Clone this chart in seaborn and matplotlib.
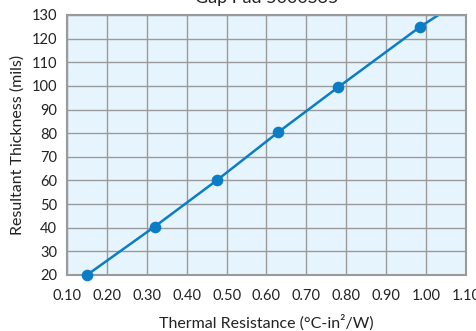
import numpy as np
import pandas as pd
import matplotlib
matplotlib.use("Agg")
import matplotlib.pyplot as plt
import seaborn as sns

# data
resistance = [0.15, 0.32, 0.475, 0.63, 0.78, 0.985]
thickness = [20, 40.5, 60, 80.5, 99.5, 125]
# trend line continues past the last point up to the top of the plot
line_x = resistance + [1.04]
line_y = thickness + [131]

x_ticks = [0.10, 0.20, 0.30, 0.40, 0.50, 0.60, 0.70, 0.80, 0.90, 1.00, 1.10]
y_ticks = list(range(20, 131, 10))

sns.set_style("white")
plt.rcParams['font.family'] = ['Lato', 'DejaVu Sans']

blue = "#0a7dc6"
grid_c = "#9a9a9a"

fig = plt.figure(figsize=(4.77, 3.31), dpi=100)
ax = fig.add_axes([67 / 477, 1 - 275 / 331, (466 - 67) / 477, (275 - 15) / 331])
ax.set_facecolor("#e6f5fd")

sns.lineplot(x=line_x, y=line_y, ax=ax, color=blue, lw=1.8, sort=False)
sns.scatterplot(x=resistance, y=thickness, ax=ax, color=blue, s=70,
                edgecolor=blue, linewidth=0, zorder=5, clip_on=False)

ax.set_xlim(0.10, 1.10)
ax.set_ylim(20, 130)
ax.set_xticks(x_ticks)
ax.set_xticklabels([f"{v:.2f}" for v in x_ticks])
ax.set_yticks(y_ticks)
ax.grid(True, color=grid_c, lw=1.0)
ax.set_axisbelow(True)
for s in ax.spines.values():
    s.set_color(grid_c)
    s.set_linewidth(1.5)
ax.tick_params(axis="both", colors=grid_c, length=4, width=1, labelsize=10.5,
               labelcolor="#222222", pad=3)
ax.tick_params(axis="x", pad=6)

ax.set_xlabel("Thermal Resistance (°C-in²/W)", fontsize=11.5, color="#222222", labelpad=8)
ax.set_ylabel("Resultant Thickness (mils)", fontsize=11.5, color="#222222", labelpad=5)

fig.text(0.56, 1.005, "Gap Pad 5000S35", ha="center", va="center",
         fontsize=13, color="#222222")

fig.savefig("out.png", dpi=100)
